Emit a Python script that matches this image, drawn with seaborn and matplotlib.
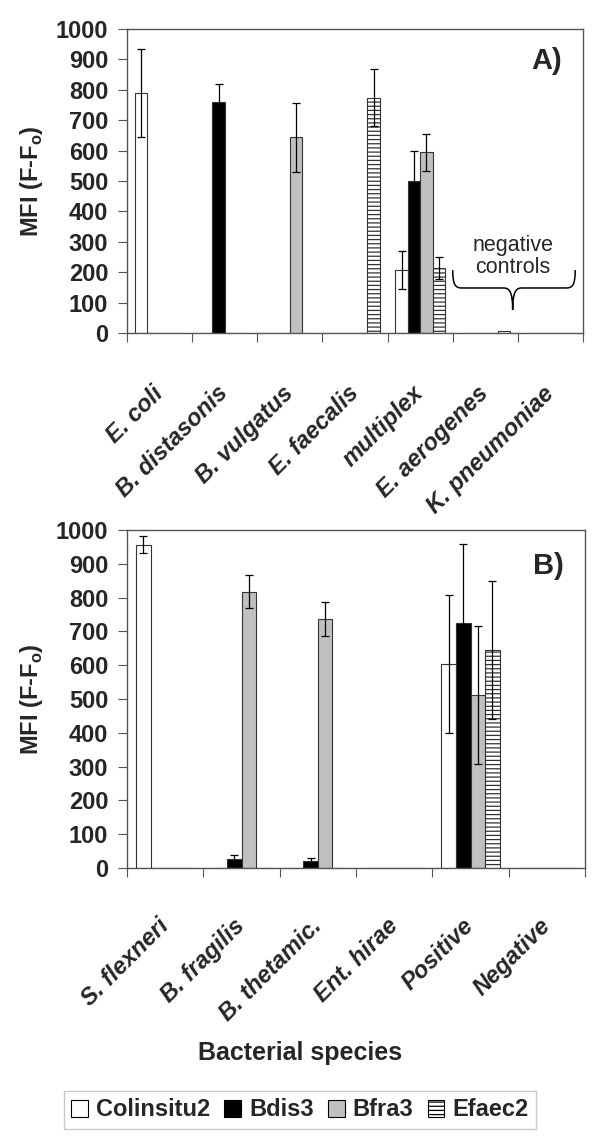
import matplotlib
matplotlib.use("Agg")
import matplotlib.pyplot as plt
from matplotlib.path import Path
from matplotlib.patches import PathPatch, Patch
import numpy as np
import pandas as pd
import seaborn as sns

# ---- data ----
series = ["Colinsitu2", "Bdis3", "Bfra3", "Efaec2"]

cats_a = ["E. coli", "B. distasonis", "B. vulgatus", "E. faecalis",
          "multiplex", "E. aerogenes", "K. pneumoniae"]
colinsitu2_a = [790, 0, 0, 0, 208, 0, 0]
bdis3_a = [0, 761, 0, 0, 499, 0, 0]
bfra3_a = [0, 0, 644, 0, 594, 0, 0]
efaec2_a = [0, 0, 0, 774, 214, 5, 0]
colinsitu2_a_err = [145, 0, 0, 0, 63, 0, 0]
bdis3_a_err = [0, 57, 0, 0, 101, 0, 0]
bfra3_a_err = [0, 0, 113, 0, 61, 0, 0]
efaec2_a_err = [0, 0, 0, 93, 36, 0, 0]

cats_b = ["S. flexneri", "B. fragilis", "B. thetamic.", "Ent. hirae",
          "Positive", "Negative"]
colinsitu2_b = [957, 0, 0, 0, 604, 0]
bdis3_b = [0, 26, 22, 0, 725, 0]
bfra3_b = [0, 817, 736, 0, 512, 0]
efaec2_b = [0, 0, 0, 0, 645, 0]
colinsitu2_b_err = [25, 0, 0, 0, 205, 0]
bdis3_b_err = [0, 13, 7, 0, 233, 0]
bfra3_b_err = [0, 49, 51, 0, 203, 0]
efaec2_b_err = [0, 0, 0, 0, 203, 0]

palette = {"Colinsitu2": "white", "Bdis3": "black", "Bfra3": "#c0c0c0", "Efaec2": "white"}
HATCH = "----"

sns.set_theme(style="white")
plt.rcParams["font.family"] = ["Liberation Sans", "DejaVu Sans"]
plt.rcParams["mathtext.fontset"] = "custom"
plt.rcParams["mathtext.rm"] = "Liberation Sans:bold"
plt.rcParams["mathtext.bf"] = "Liberation Sans:bold"
plt.rcParams["hatch.linewidth"] = 0.9


def long_table(cats, vals, errs):
    rows = []
    for s, v, e in zip(series, vals, errs):
        for c, vi, ei in zip(cats, v, e):
            rows.append({"species": c, "probe": s, "mfi": vi, "err": ei})
    return pd.DataFrame(rows)


def draw_panel(ax, df, cats, tag, label_pad):
    sns.barplot(data=df, x="species", y="mfi", hue="probe", order=cats,
                hue_order=series, palette=palette, width=0.76,
                edgecolor="#333333", linewidth=0.8, errorbar=None,
                legend=False, ax=ax)
    for cont, s in zip(ax.containers, series):
        sub = df[df.probe == s].set_index("species").loc[cats]
        for bar, v, e in zip(cont, sub.mfi, sub.err):
            if s == "Efaec2":
                bar.set_hatch(HATCH)
            if e > 0:
                ax.errorbar(bar.get_x() + bar.get_width() / 2, v, yerr=e,
                            fmt="none", ecolor="black", elinewidth=0.9,
                            capsize=3, capthick=0.9, zorder=5)
    ax.set_xlim(-0.5, len(cats) - 0.5)
    ax.set_ylim(0, 1000)
    ax.set_yticks(range(0, 1001, 100))
    ax.set_yticklabels([str(t) for t in range(0, 1001, 100)],
                       fontsize=17, fontweight="bold")
    ax.set_xticks(np.arange(len(cats) + 1) - 0.5, minor=True)
    ax.set_xticks(np.arange(len(cats)))
    ax.set_xticklabels(cats, rotation=45, ha="right", va="center",
                       rotation_mode="anchor", fontsize=17,
                       fontweight="bold", fontstyle="italic")
    ax.tick_params(axis="x", which="major", length=0, pad=label_pad)
    ax.tick_params(axis="x", which="minor", length=6.5, width=0.8,
                   direction="out", bottom=True, color="#555555")
    ax.tick_params(axis="y", length=6.5, width=0.8, direction="out",
                   left=True, color="#555555", pad=7)
    ax.set_xlabel("")
    ax.set_ylabel(r"MFI (F-F$_{\mathrm{o}}$)", fontsize=17, fontweight="bold")
    ax.yaxis.set_label_coords(-0.18, 0.5)
    for sp in ax.spines.values():
        sp.set_color("#555555")
        sp.set_linewidth(1.0)
    ax.text(0.953, 0.895, tag, transform=ax.transAxes, ha="right", va="center",
            fontsize=21, fontweight="bold")


fig = plt.figure(figsize=(6, 11.45), dpi=100)
ax_a = fig.add_axes([0.2117, 0.7092, 0.760, 0.2655])
ax_b = fig.add_axes([0.2117, 0.2419, 0.7633, 0.2952])

df_a = long_table(cats_a, [colinsitu2_a, bdis3_a, bfra3_a, efaec2_a],
                  [colinsitu2_a_err, bdis3_a_err, bfra3_a_err, efaec2_a_err])
df_b = long_table(cats_b, [colinsitu2_b, bdis3_b, bfra3_b, efaec2_b],
                  [colinsitu2_b_err, bdis3_b_err, bfra3_b_err, efaec2_b_err])

draw_panel(ax_a, df_a, cats_a, "A)", 41)
draw_panel(ax_b, df_b, cats_b, "B)", 39)

# brace over the negative controls
verts = [(4.50, 207), (4.50, 158), (4.54, 148), (4.64, 148),
         (5.28, 148),
         (5.37, 148), (5.42, 135), (5.42, 76),
         (5.42, 135), (5.47, 148), (5.56, 148),
         (6.24, 148),
         (6.34, 148), (6.38, 158), (6.38, 207)]
codes = [Path.MOVETO, Path.CURVE4, Path.CURVE4, Path.CURVE4,
         Path.LINETO,
         Path.CURVE4, Path.CURVE4, Path.CURVE4,
         Path.CURVE4, Path.CURVE4, Path.CURVE4,
         Path.LINETO,
         Path.CURVE4, Path.CURVE4, Path.CURVE4]
ax_a.add_patch(PathPatch(Path(verts, codes), facecolor="none",
                         edgecolor="black", linewidth=1.1))
ax_a.text(5.42, 252, "negative\ncontrols", ha="center", va="center",
          fontsize=15.5, linespacing=1.05)

fig.text(0.5, (1145 - 1053) / 1145, "Bacterial species", ha="center",
         va="center", fontsize=18, fontweight="bold")

handles = [Patch(facecolor=palette[s], edgecolor="black", linewidth=0.8,
                 hatch=HATCH if s == "Efaec2" else None) for s in series]
fig.legend(handles, series, loc="center", bbox_to_anchor=(0.5, (1145 - 1110) / 1145),
           ncol=4, frameon=True, fancybox=False, edgecolor="#bbbbbb",
           prop={"weight": "bold", "size": 17}, handlelength=0.7,
           handleheight=0.7, handletextpad=0.35, columnspacing=0.6,
           borderpad=0.3, borderaxespad=0)

fig.savefig("out.png", dpi=100, facecolor="white")
